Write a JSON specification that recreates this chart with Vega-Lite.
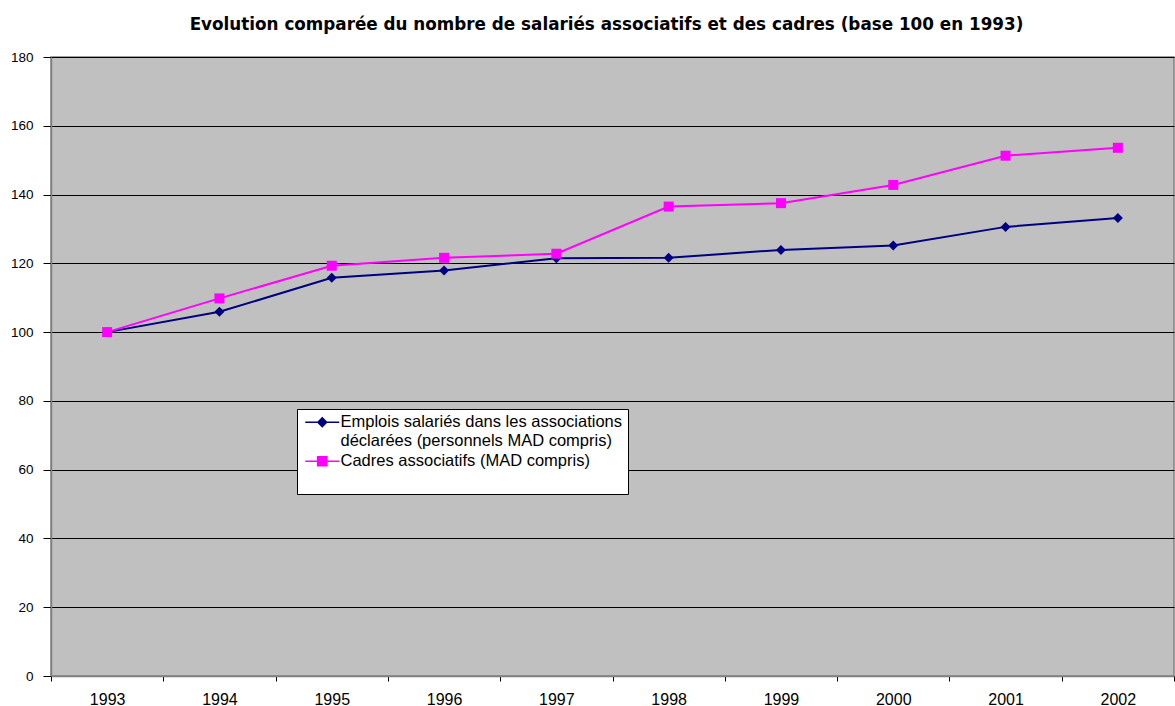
{
  "$schema": "https://vega.github.io/schema/vega-lite/v6.json",
  "autosize": {"type": "none"},
  "width": 1123,
  "height": 619,
  "padding": {"left": 51, "top": 57, "right": 1, "bottom": 30},
  "background": "white",
  "title": {
    "text": "Evolution comparée du nombre de salariés associatifs et des cadres (base 100 en 1993)",
    "font": "DejaVu Sans",
    "fontSize": 16.8,
    "fontWeight": "bold",
    "color": "black",
    "anchor": "middle",
    "frame": "group",
    "dx": -6,
    "offset": 16
  },
  "config": {
    "view": {"fill": "#C0C0C0", "stroke": "#808080", "strokeWidth": 1.5},
    "axis": {"labelFont": "Liberation Sans", "labelColor": "black", "domainColor": "#808080", "tickColor": "black"}
  },
  "data": {
    "values": [
      {"annee": "1993", "serie": "Emplois salariés dans les associations déclarées (personnels MAD compris)", "valeur": 100},
      {"annee": "1994", "serie": "Emplois salariés dans les associations déclarées (personnels MAD compris)", "valeur": 105.9},
      {"annee": "1995", "serie": "Emplois salariés dans les associations déclarées (personnels MAD compris)", "valeur": 115.8},
      {"annee": "1996", "serie": "Emplois salariés dans les associations déclarées (personnels MAD compris)", "valeur": 117.9},
      {"annee": "1997", "serie": "Emplois salariés dans les associations déclarées (personnels MAD compris)", "valeur": 121.5},
      {"annee": "1998", "serie": "Emplois salariés dans les associations déclarées (personnels MAD compris)", "valeur": 121.6},
      {"annee": "1999", "serie": "Emplois salariés dans les associations déclarées (personnels MAD compris)", "valeur": 123.9},
      {"annee": "2000", "serie": "Emplois salariés dans les associations déclarées (personnels MAD compris)", "valeur": 125.2},
      {"annee": "2001", "serie": "Emplois salariés dans les associations déclarées (personnels MAD compris)", "valeur": 130.6},
      {"annee": "2002", "serie": "Emplois salariés dans les associations déclarées (personnels MAD compris)", "valeur": 133.2},
      {"annee": "1993", "serie": "Cadres associatifs (MAD compris)", "valeur": 100},
      {"annee": "1994", "serie": "Cadres associatifs (MAD compris)", "valeur": 109.8},
      {"annee": "1995", "serie": "Cadres associatifs (MAD compris)", "valeur": 119.3},
      {"annee": "1996", "serie": "Cadres associatifs (MAD compris)", "valeur": 121.6},
      {"annee": "1997", "serie": "Cadres associatifs (MAD compris)", "valeur": 122.8},
      {"annee": "1998", "serie": "Cadres associatifs (MAD compris)", "valeur": 136.5},
      {"annee": "1999", "serie": "Cadres associatifs (MAD compris)", "valeur": 137.5},
      {"annee": "2000", "serie": "Cadres associatifs (MAD compris)", "valeur": 142.8},
      {"annee": "2001", "serie": "Cadres associatifs (MAD compris)", "valeur": 151.3},
      {"annee": "2002", "serie": "Cadres associatifs (MAD compris)", "valeur": 153.6}
    ]
  },
  "encoding": {
    "x": {
      "field": "annee",
      "type": "ordinal",
      "scale": {"type": "band", "paddingInner": 0, "paddingOuter": 0},
      "axis": {
        "title": null,
        "labelAngle": 0,
        "labelFontSize": 16,
        "labelPadding": 10,
        "tickBand": "extent",
        "tickSize": 5,
        "domainWidth": 1.5
      }
    },
    "y": {
      "field": "valeur",
      "type": "quantitative",
      "scale": {"domain": [0, 180], "nice": false},
      "axis": {
        "title": null,
        "values": [0, 20, 40, 60, 80, 100, 120, 140, 160, 180],
        "labelFontSize": 13.5,
        "labelPadding": 10,
        "tickSize": 8,
        "gridColor": "black",
        "gridOpacity": 1,
        "gridWidth": 1,
        "domainWidth": 1.5
      }
    },
    "color": {
      "field": "serie",
      "type": "nominal",
      "sort": ["Emplois salariés dans les associations déclarées (personnels MAD compris)", "Cadres associatifs (MAD compris)"],
      "scale": {
        "domain": ["Emplois salariés dans les associations déclarées (personnels MAD compris)", "Cadres associatifs (MAD compris)"],
        "range": ["#000080", "#FF00FF"]
      },
      "legend": {
        "title": " ",
        "titleOrient": "bottom",
        "titleFontSize": 10,
        "titlePadding": 9,
        "orient": "none",
        "legendX": 246,
        "legendY": 352,
        "fillColor": "white",
        "strokeColor": "black",
        "padding": 5,
        "labelFont": "Liberation Sans",
        "labelFontSize": 16.5,
        "labelColor": "black",
        "labelLimit": 400,
        "labelOffset": 10,
        "symbolSize": 100,
        "symbolOffset": 12,
        "symbolStrokeWidth": 1.5,
        "rowPadding": 3,
        "labelBaseline": "middle",
        "labelExpr": "indexof(datum.label, 'déclarées') > 0 ? ['Emplois salariés dans les associations', 'déclarées (personnels MAD compris)'] : datum.label",
        "encode": {
          "symbols": {
            "update": {
              "shape": {"signal": "indexof(datum.value, 'déclarées') > 0 ? 'M-3.4,0H3.4M0,-0.88L0.88,0L0,0.88L-0.88,0Z' : 'M-3.4,0H3.4M-0.92,-0.92H0.92V0.92H-0.92Z'"},
              "fill": {"signal": "indexof(datum.value, 'déclarées') > 0 ? '#000080' : '#FF00FF'"},
              "stroke": {"signal": "indexof(datum.value, 'déclarées') > 0 ? '#000080' : '#FF00FF'"},
              "strokeWidth": {"value": 1.5},
              "size": {"value": 100},
              "fillOpacity": {"value": 1},
              "strokeOpacity": {"value": 1},
              "opacity": {"value": 1}
            }
          },
          "labels": {
            "update": {"lineHeight": {"value": 18.5}}
          }
        }
      }
    }
  },
  "layer": [
    {
      "mark": {"type": "line", "strokeWidth": 2},
      "encoding": {}
    },
    {
      "transform": [{"filter": "indexof(datum.serie, 'déclarées') > 0"}],
      "mark": {"type": "point", "filled": true, "opacity": 1, "size": 100, "shape": "diamond"},
      "encoding": {}
    },
    {
      "transform": [{"filter": "indexof(datum.serie, 'déclarées') < 0"}],
      "mark": {"type": "point", "filled": true, "opacity": 1, "size": 100, "shape": "square"},
      "encoding": {}
    }
  ]
}
